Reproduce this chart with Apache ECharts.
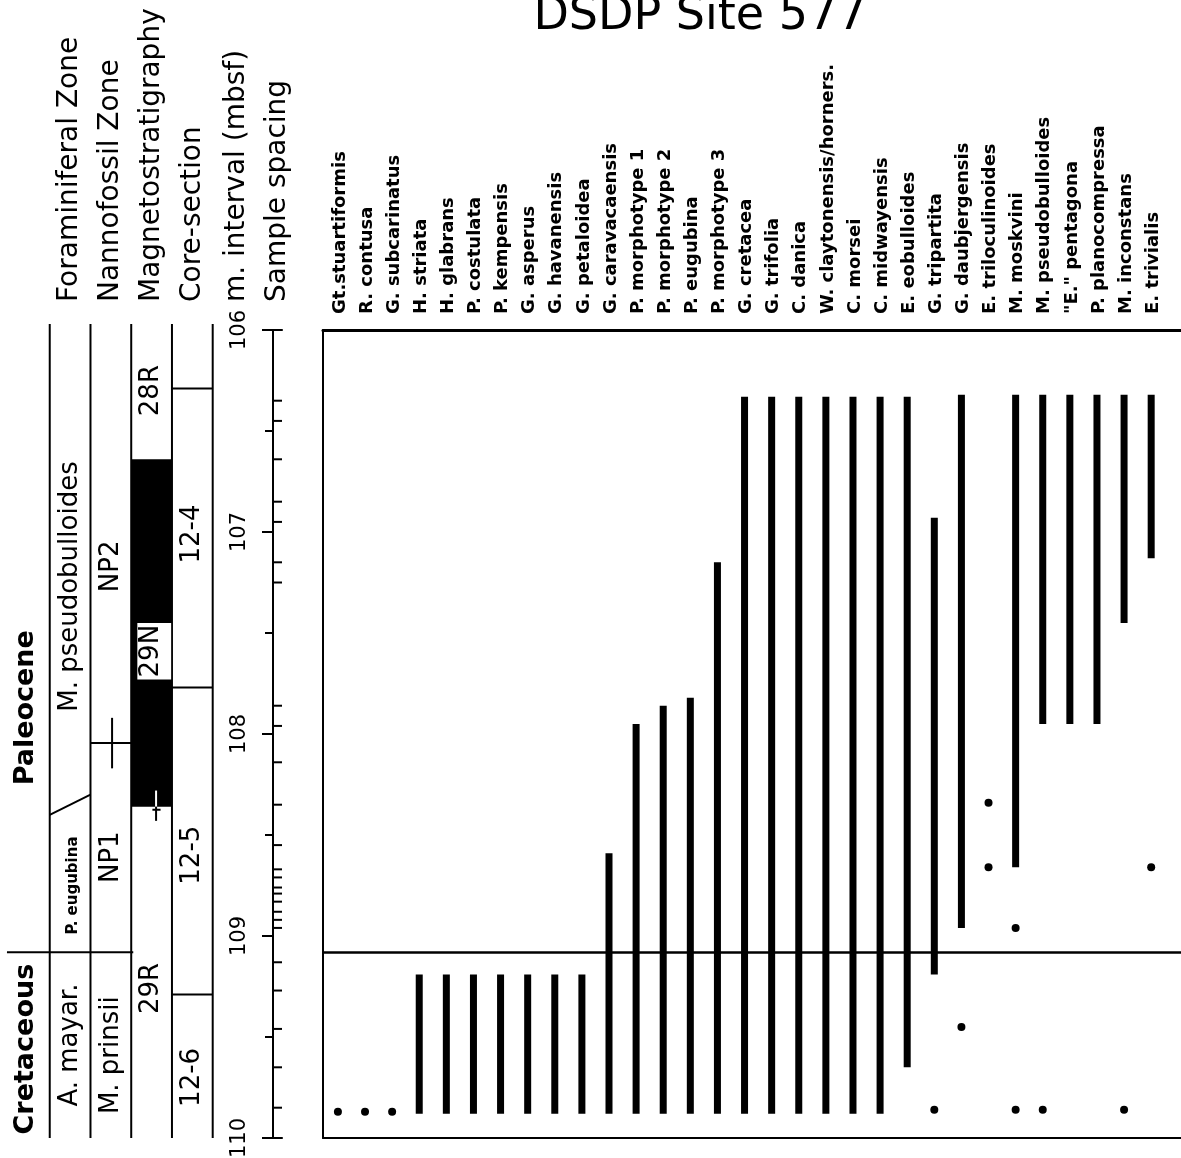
<!DOCTYPE html>
<html><head><meta charset="utf-8">
<script src="https://cdn.jsdelivr.net/npm/echarts@6/dist/echarts.min.js"></script>
<style>html,body{margin:0;padding:0;background:#fff}#c{width:1181px;height:1158px}</style>
</head><body><div id="c"></div>
<script>
// ---------------- DATA ----------------
const chartTitle = 'DSDP Site 577';
const species = ['Gt.stuartiformis','R. contusa','G. subcarinatus','H. striata','H. glabrans','P. costulata','P. kempensis','G. asperus','G. havanensis','G. petaloidea','G. caravacaensis','P. morphotype 1','P. morphotype 2','P. eugubina','P. morphotype 3','G. cretacea','G. trifolia','C. danica','W. claytonensis/horners.','C. morsei','C. midwayensis','E. eobulloides','G. tripartita','G. daubjergensis','E. triloculinoides','M. moskvini','M. pseudobulloides','"E." pentagona','P. planocompressa','M. inconstans','E. trivialis'];
// highest (top) and lowest (base) occurrence of continuous range, mbsf
const rangeTop  = [null,null,null,109.19,109.19,109.19,109.19,109.19,109.19,109.19,108.59,107.95,107.86,107.82,107.15,106.33,106.33,106.33,106.33,106.33,106.33,106.33,106.93,106.32,null,106.32,106.32,106.32,106.32,106.32,106.32];
const rangeBase = [null,null,null,109.88,109.88,109.88,109.88,109.88,109.88,109.88,109.88,109.88,109.88,109.88,109.88,109.88,109.88,109.88,109.88,109.88,109.88,109.65,109.19,108.96,null,108.66,107.95,107.95,107.95,107.45,107.13];
// isolated occurrences
const isolatedSpecies = [0,1,2,22,23,24,24,25,25,26,29,30];
const isolatedDepth   = [109.87,109.87,109.87,109.86,109.45,108.34,108.66,108.96,109.86,109.86,109.86,108.66];
// sample positions (mbsf)
const samples = [106.35,106.45,106.64,106.85,106.95,107.15,107.25,107.86,107.96,108.14,108.35,108.55,108.67,108.71,108.76,108.79,108.83,108.88,108.92,108.96,109.13,109.27,109.46,109.65,109.85];
const depthTickValues = [106,107,108,109,110];
const depthTickLabels = ['106','107','108','109','110'];
const kpgBoundary = 109.08;
const headers = ['Foraminiferal Zone','Nannofossil Zone','Magnetostratigraphy','Core-section','m. interval (mbsf)','Sample spacing'];
const periodNames = ['Cretaceous','Paleocene'];
const periodDepth = [109.56,107.87];
const foramNames = ['A. mayar.','P. eugubina','M. pseudobulloides'];
const foramDepth = [109.54,108.75,107.27];
const foramBoundary = [108.40,108.30];        // slanted boundary (left end, right end)
const nannoNames = ['M. prinsii','NP1','NP2'];
const nannoDepth = [109.59,108.61,107.17];
const nannoBoundary = 108.045;
const nannoUncertainty = [107.92,108.17];
const magNames = ['28R','29N','29R'];
const magDepth = [106.30,107.59,109.26];
const magNormal = [106.64,108.36];           // 29N black interval
const magUncertainty = [108.28,108.43];
const coreNames = ['12-4','12-5','12-6'];
const coreDepth = [107.01,108.60,109.70];
const coreBreaks = [106.29,107.77,109.29];

// ---------------- LAYOUT / STYLE ----------------
const FONT = "'DejaVu Sans', Verdana, sans-serif";
const LEFT_MAX = 6.48;               // left panel x-extent in column units (axis line at right edge)
const columnEdges = [1,2,3,4,5];
const colCenter = {period:0.42, foram:1.5, nanno:2.5, mag:3.5, core:4.5};
const headerK = [1.5,2.5,3.5,4.5,5.6,6.6];

const zoneFont = '26px ' + FONT;
const leftItems = [];
columnEdges.forEach(k => leftItems.push({kind:'line', k0:k, d0:105.97, k1:k, d1:110}));
// magnetostratigraphy normal interval
leftItems.push({kind:'rect', k0:3, d0:magNormal[0], k1:4, d1:magNormal[1], fill:'#000'});
leftItems.push({kind:'line', k0:3.61, d0:magUncertainty[0], k1:3.61, d1:magNormal[1], color:'#fff'});
leftItems.push({kind:'line', k0:3.61, d0:magNormal[1], k1:3.61, d1:magUncertainty[1]});
leftItems.push({kind:'line', k0:3.52, d0:108.375, k1:3.72, d1:108.375});
// K/Pg boundary in zone columns
leftItems.push({kind:'line', k0:-0.05, d0:kpgBoundary, k1:3.05, d1:kpgBoundary});
// foram boundary
leftItems.push({kind:'line', k0:1, d0:foramBoundary[0], k1:2, d1:foramBoundary[1]});
// nanno boundary
leftItems.push({kind:'line', k0:2, d0:nannoBoundary, k1:3, d1:nannoBoundary});
leftItems.push({kind:'line', k0:2.53, d0:nannoUncertainty[0], k1:2.53, d1:nannoUncertainty[1]});
// core breaks
coreBreaks.forEach(d => leftItems.push({kind:'line', k0:4, d0:d, k1:5, d1:d}));
// axis end ticks (right side)
[depthTickValues[0], depthTickValues[depthTickValues.length-1]].forEach(d =>
  leftItems.push({kind:'line', k0:LEFT_MAX, d0:d, k1:LEFT_MAX+0.24, d1:d}));
// labels
periodNames.forEach((t,i)=>leftItems.push({kind:'text', k:colCenter.period, d:periodDepth[i], text:t, font:'bold 27px '+FONT}));
foramNames.forEach((t,i)=>leftItems.push({kind:'text', k:colCenter.foram + (i===1?0.08:0), d:foramDepth[i], text:t, font: i===1 ? 'bold 15px '+FONT : zoneFont}));
nannoNames.forEach((t,i)=>leftItems.push({kind:'text', k:colCenter.nanno, d:nannoDepth[i], text:t, font:zoneFont}));
leftItems.push({kind:'rect', k0:3.15, d0:107.45, k1:3.98, d1:107.73, fill:'#fff'});
magNames.forEach((t,i)=>leftItems.push({kind:'text', k:colCenter.mag, d:magDepth[i], text:t, font:zoneFont}));
coreNames.forEach((t,i)=>leftItems.push({kind:'text', k:colCenter.core, d:coreDepth[i], text:t, font:zoneFont}));
headers.forEach((t,i)=>leftItems.push({kind:'text', k:headerK[i], d:106, dy:-28, text:t, font:'28px '+FONT, align:'left'}));
// depth tick labels (rotated, left of the sample-spacing axis)
depthTickValues.forEach((v,i)=>leftItems.push({kind:'text', k:5.67, d:v, text:depthTickLabels[i], font:'21px '+FONT}));

function renderLeft(params, api){
  const it = leftItems[params.dataIndex];
  if (it.kind === 'line'){
    const a = api.coord([it.k0,it.d0]), b = api.coord([it.k1,it.d1]);
    return {type:'line', shape:{x1:a[0],y1:a[1],x2:b[0],y2:b[1]}, style:{stroke:it.color||'#000', lineWidth:2}};
  }
  if (it.kind === 'rect'){
    const a = api.coord([it.k0,it.d0]), b = api.coord([it.k1,it.d1]);
    return {type:'rect', shape:{x:a[0], y:a[1], width:b[0]-a[0], height:b[1]-a[1]}, style:{fill:it.fill}};
  }
  const p = api.coord([it.k,it.d]);
  return {type:'text', x:p[0], y:p[1]+(it.dy||0), rotation:Math.PI/2,
    style:{text:it.text, font:it.font, fill:'#000', align:it.align||'center', verticalAlign:'middle'}};
}

const rangeData = [];
species.forEach((s,i)=>{ if (rangeTop[i] != null) rangeData.push([i, rangeTop[i], rangeBase[i]]); });

const chart = echarts.init(document.getElementById('c'));
chart.setOption({
  animation:false,
  backgroundColor:'#fff',
  graphic:[{type:'text', x:700, y:40, style:{text:chartTitle, font:'46px '+FONT, fill:'#000', align:'center', verticalAlign:'bottom'}}],
  grid:[
    {left:323, right:0, top:330, bottom:20},
    {left:9, right:908, top:330, bottom:20}
  ],
  xAxis:[
    {gridIndex:0, type:'value', min:-0.55, max:31.1, position:'top',
      axisLine:{show:true, onZero:false, lineStyle:{color:'#000', width:3}}, axisTick:{show:false}, axisLabel:{show:false}, splitLine:{show:false}},
    {gridIndex:0, type:'value', min:-0.55, max:31.1, position:'bottom',
      axisLine:{show:true, onZero:false, lineStyle:{color:'#000', width:2}}, axisTick:{show:false}, axisLabel:{show:false}, splitLine:{show:false}},
    {gridIndex:1, type:'value', min:0, max:LEFT_MAX, show:false}
  ],
  yAxis:[
    {gridIndex:0, type:'value', min:106, max:110, inverse:true, position:'left',
      axisLine:{show:true, onZero:false, lineStyle:{color:'#000', width:2}}, axisTick:{show:false}, axisLabel:{show:false}, splitLine:{show:false}},
    {gridIndex:1, type:'value', min:106, max:110, interval:1, inverse:true, position:'right',
      axisLine:{show:true, onZero:false, lineStyle:{color:'#000', width:2}},
      axisTick:{show:true, inside:true, length:11, lineStyle:{color:'#000', width:2}},
      minorTick:{show:true, splitNumber:2, length:8, lineStyle:{color:'#000', width:2}},
      axisLabel:{show:false},
      splitLine:{show:false}}
  ],
  series:[
    {type:'custom', xAxisIndex:0, yAxisIndex:0, data:rangeData, encode:{x:0, y:[1,2]},
      renderItem:(params, api)=>{
        const a = api.coord([api.value(0), api.value(1)]);
        const b = api.coord([api.value(0), api.value(2)]);
        return {type:'line', shape:{x1:a[0],y1:a[1],x2:b[0],y2:b[1]}, style:{stroke:'#000', lineWidth:7}};
      }},
    {type:'scatter', xAxisIndex:0, yAxisIndex:0, symbol:'circle', symbolSize:8, itemStyle:{color:'#000', opacity:1},
      data:isolatedSpecies.map((s,k)=>[s, isolatedDepth[k]]),
      markLine:{silent:true, symbol:['none','none'], label:{show:false}, lineStyle:{color:'#000', width:2.5, type:'solid'},
        data:[{yAxis:kpgBoundary}]}},
    {type:'custom', xAxisIndex:0, yAxisIndex:0, data:species.map((s,i)=>[i,106]),
      renderItem:(params, api)=>{
        const p = api.coord([api.value(0), api.value(1)]);
        return {type:'text', x:p[0]+2, y:p[1]-16, rotation:Math.PI/2,
          style:{text:species[params.dataIndex], font:'bold 18px '+FONT, fill:'#000', align:'left', verticalAlign:'middle'}};
      }},
    {type:'custom', xAxisIndex:2, yAxisIndex:1, data:leftItems.map(it=>[it.k!=null?it.k:it.k0, it.d!=null?it.d:it.d0]),
      renderItem:renderLeft},
    {type:'custom', xAxisIndex:2, yAxisIndex:1, data:samples.map(d=>[LEFT_MAX, d]),
      renderItem:(params, api)=>{
        const p = api.coord([api.value(0), api.value(1)]);
        return {type:'line', shape:{x1:p[0], y1:p[1], x2:p[0]+9, y2:p[1]}, style:{stroke:'#000', lineWidth:2}};
      }}
  ]
});
</script>
</body></html>
